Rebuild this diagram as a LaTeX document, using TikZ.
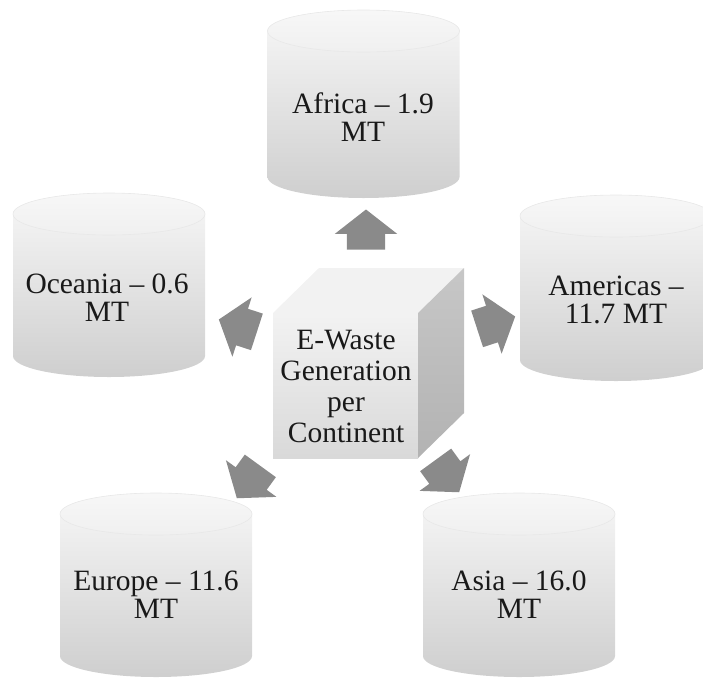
\documentclass[tikz,border=0pt]{standalone}
\usepackage{fontspec}
\setmainfont{Liberation Serif}
\usetikzlibrary{shapes.arrows}
\newcommand\drawcyl[3]{%
  \path[cylbody] (#1-96,-#2-21) -- (#1-96,-#3+21)
    arc[start angle=180,end angle=360,x radius=96,y radius=21]
    -- (#1+96,-#2-21)
    arc[start angle=0,end angle=180,x radius=96,y radius=21] -- cycle;
  \path[cyltop] (#1,-#2-21) ellipse[x radius=96,y radius=21];
}
\begin{document}
\begin{tikzpicture}[x=1pt,y=1pt,
  cylbody/.style={top color=black!3, bottom color=black!19, draw=none},
  cyltop/.style={top color=black!3, bottom color=black!6, draw=black!9, line width=0.6pt},
  lbl/.style={font=\fontsize{29.5}{28}\selectfont, align=center, text=black!90, inner sep=0pt},
  cubelbl/.style={font=\fontsize{29.5}{31}\selectfont, align=center, text=black!90, inner sep=0pt},
  blockarrow/.style={single arrow, draw=none, fill=black!46, minimum height=40pt,
    single arrow head extend=12pt, single arrow tip angle=104,
    inner xsep=0pt, inner ysep=19pt, anchor=center},
]
\useasboundingbox (0,0) rectangle (703,-678);
% cylinders
\drawcyl{363.5}{10}{198}
\drawcyl{109}{193}{377}
\drawcyl{616}{195}{381}
\drawcyl{156}{493}{677}
\drawcyl{519}{493}{677}
\node[lbl] (africa) at (363,-117) {Africa \textendash\ 1.9\\MT};
\node[lbl] (oceania) at (107,-298) {Oceania \textendash\ 0.6\\MT};
\node[lbl] (americas) at (616,-300) {Americas \textendash\\11.7 MT};
\node[lbl] (europe) at (156,-595) {Europe \textendash\ 11.6\\MT};
\node[lbl] (asia) at (519,-595) {Asia \textendash\ 16.0\\MT};
% cube
\path[top color=black!5, bottom color=black!15] (273,-313) rectangle (418,-458);
\path[fill=black!5] (273,-313) -- (319,-268) -- (464,-268) -- (418,-313) -- cycle;
\path[top color=black!22, bottom color=black!30] (418,-313) -- (464,-268) -- (464,-413) -- (418,-458) -- cycle;
\node[cubelbl] (cube) at (346,-386) {E-Waste\\Generation\\per\\Continent};
% arrows
\node[blockarrow, rotate=90]  (toafrica)   at (366,-237) {};
\node[blockarrow, rotate=18]  (toamericas) at (489,-325) {};
\node[blockarrow, rotate=306] (toasia)     at (443,-470) {};
\node[blockarrow, rotate=234] (toeurope)   at (253,-476) {};
\node[blockarrow, rotate=162] (tooceania)  at (245,-328) {};
\end{tikzpicture}
\end{document}
